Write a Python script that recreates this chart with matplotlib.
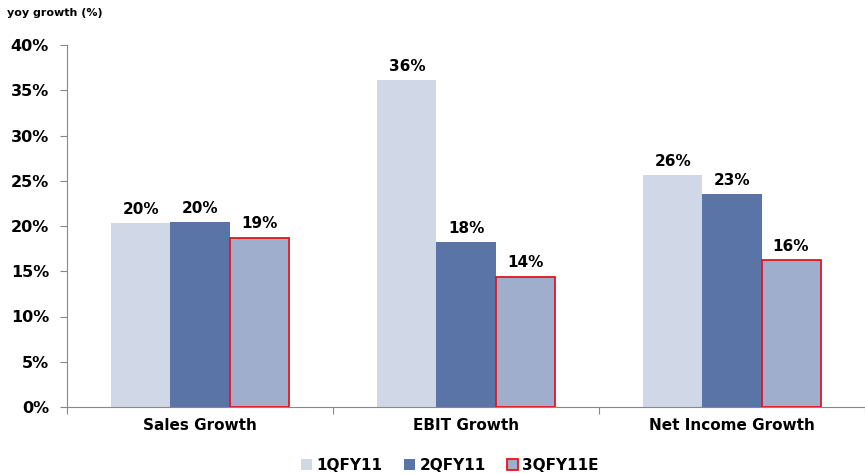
import matplotlib.pyplot as plt
import numpy as np

categories = ["Sales Growth", "EBIT Growth", "Net Income Growth"]
series = ["1QFY11", "2QFY11", "3QFY11E"]
q1 = [20.3, 36.1, 25.6]
q2 = [20.4, 18.2, 23.5]
q3 = [18.7, 14.4, 16.2]
labels_q1 = ["20%", "36%", "26%"]
labels_q2 = ["20%", "18%", "23%"]
labels_q3 = ["19%", "14%", "16%"]

plt.rcParams['font.family'] = ['DejaVu Sans']

fig = plt.figure(figsize=(8.65, 4.74), dpi=100)
ax = fig.add_axes([67/865, 1 - 407/474, 798/865, 362/474])

x = np.arange(len(categories))
w = 0.222
colors = ["#D0D7E6", "#5B74A8", "#A0AECD"]
edges = ["#D0D7E6", "#5B74A8", "#E8141B"]
data = [q1, q2, q3]
texts = [labels_q1, labels_q2, labels_q3]

for i in range(3):
    bars = ax.bar(x + (i - 1) * w, data[i], w, color=colors[i],
                  edgecolor=edges[i], linewidth=1.3 if i == 2 else 0,
                  label=series[i])
    for b, t in zip(bars, texts[i]):
        ax.text(b.get_x() + b.get_width() / 2, b.get_height() + 0.7, t,
                ha='center', va='bottom', fontsize=11, fontweight='bold')

ax.set_xlim(-0.5, 2.5)
ax.set_ylim(0, 40)
ax.set_yticks(np.arange(0, 41, 5))
ax.set_yticklabels([f"{v}%" for v in range(0, 41, 5)], fontsize=11.5, fontweight='bold')
ax.set_xticks([-0.5, 0.5, 1.5, 2.5], minor=False)
ax.set_xticklabels([])
ax.set_xticks(x, minor=True)
ax.set_xticklabels(categories, minor=True, fontsize=11, fontweight='bold')
ax.tick_params(axis='x', which='minor', length=0, pad=8)
ax.tick_params(axis='x', which='major', length=5, color='#888888')
ax.tick_params(axis='y', length=5, color='#888888', pad=8)
for s in ['top', 'right']:
    ax.spines[s].set_visible(False)
for s in ['left', 'bottom']:
    ax.spines[s].set_color('#888888')

fig.text(7/865, 1 - 16/474, "yoy growth (%)", fontsize=8, fontweight='bold')

fig.legend(loc='center', bbox_to_anchor=(450/865, 1 - 465/474), ncol=3,
           frameon=False, prop={'size': 11, 'weight': 'bold'},
           handlelength=0.7, handleheight=0.7, handletextpad=0.3, columnspacing=1.4)

fig.savefig("out.png", dpi=100)
